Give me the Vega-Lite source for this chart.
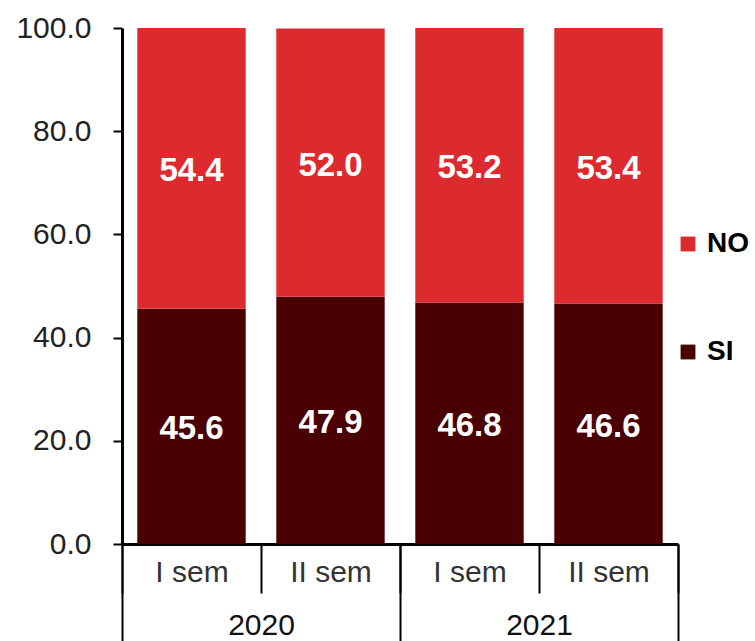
{
  "$schema": "https://vega.github.io/schema/vega-lite/v6.json",
  "width": 556,
  "height": 516,
  "autosize": "none",
  "padding": {"left": 122, "top": 28, "right": 77, "bottom": 97},
  "config": {
    "view": {"stroke": null},
    "font": "Liberation Sans",
    "axis": {"labelFont": "Liberation Sans", "titleFont": "Liberation Sans"},
    "legend": {"labelFont": "Liberation Sans"}
  },
  "resolve": {"scale": {"x": "independent"}, "axis": {"x": "independent"}},
  "layer": [
    {
      "data": {
        "values": [
          {"period": "2020|I sem", "answer": "SI", "value": 45.6},
          {"period": "2020|I sem", "answer": "NO", "value": 54.4},
          {"period": "2020|II sem", "answer": "SI", "value": 47.9},
          {"period": "2020|II sem", "answer": "NO", "value": 52.0},
          {"period": "2021|I sem", "answer": "SI", "value": 46.8},
          {"period": "2021|I sem", "answer": "NO", "value": 53.2},
          {"period": "2021|II sem", "answer": "SI", "value": 46.6},
          {"period": "2021|II sem", "answer": "NO", "value": 53.4}
        ]
      },
      "transform": [
        {"stack": "value", "groupby": ["period"], "sort": [{"field": "answer", "order": "descending"}], "as": ["v0", "v1"]}
      ],
      "encoding": {
        "x": {
          "field": "period",
          "type": "nominal",
          "sort": null,
          "scale": {"paddingInner": 0, "paddingOuter": 0},
          "axis": {
            "title": null,
            "orient": "bottom",
            "labelAngle": 0,
            "labelExpr": "split(datum.value, '|')[1]",
            "labelFontSize": 30,
            "labelColor": "#333333",
            "labelPadding": -36,
            "tickBand": "extent",
            "tickSize": 49,
            "tickWidth": 2,
            "tickColor": "#000000",
            "domainColor": "#000000",
            "domainWidth": 3
          }
        }
      },
      "layer": [
        {
          "mark": {"type": "bar", "width": {"band": 0.78}},
          "encoding": {
            "y": {
              "field": "v0",
              "type": "quantitative",
              "scale": {"domain": [0, 100], "nice": false},
              "axis": {
                "title": null,
                "values": [0, 20, 40, 60, 80, 100],
                "format": ".1f",
                "grid": false,
                "labelFontSize": 30,
                "labelColor": "#222222",
                "labelPadding": 22,
                "tickSize": 9,
                "tickWidth": 2,
                "tickColor": "#000000",
                "domainColor": "#000000",
                "domainWidth": 3
              }
            },
            "y2": {"field": "v1"},
            "color": {
              "field": "answer",
              "type": "nominal",
              "scale": {"domain": ["NO", "SI"], "range": ["#dc2a2f", "#4a0003"]},
              "legend": {
                "title": null,
                "orient": "none",
                "legendX": 552,
                "legendY": 202,
                "symbolType": "square",
                "symbolSize": 220,
                "labelFontSize": 28,
                "labelFontWeight": "bold",
                "labelColor": "#000000",
                "labelOffset": 5,
                "rowPadding": 80
              }
            }
          }
        },
        {
          "transform": [
            {"fold": ["v0", "v1"], "as": ["edge", "pos"]},
            {"aggregate": [{"op": "mean", "field": "pos", "as": "mid"}], "groupby": ["period", "answer", "value"]}
          ],
          "mark": {"type": "text", "color": "#ffffff", "fontWeight": "bold", "fontSize": 33, "baseline": "middle", "dy": 3},
          "encoding": {
            "y": {"field": "mid", "type": "quantitative"},
            "text": {"field": "value", "type": "quantitative", "format": ".1f"}
          }
        }
      ]
    },
    {
      "data": {"values": [{"year": "2020"}, {"year": "2021"}]},
      "mark": {"type": "text", "opacity": 0, "text": ""},
      "encoding": {
        "x": {
          "field": "year",
          "type": "nominal",
          "scale": {"paddingInner": 0, "paddingOuter": 0},
          "axis": {
            "title": null,
            "orient": "bottom",
            "labelAngle": 0,
            "labelFontSize": 30,
            "labelColor": "#111111",
            "labelPadding": -34,
            "tickBand": "extent",
            "tickSize": 100,
            "tickWidth": 2,
            "tickColor": "#000000",
            "domain": false
          }
        }
      }
    }
  ]
}
